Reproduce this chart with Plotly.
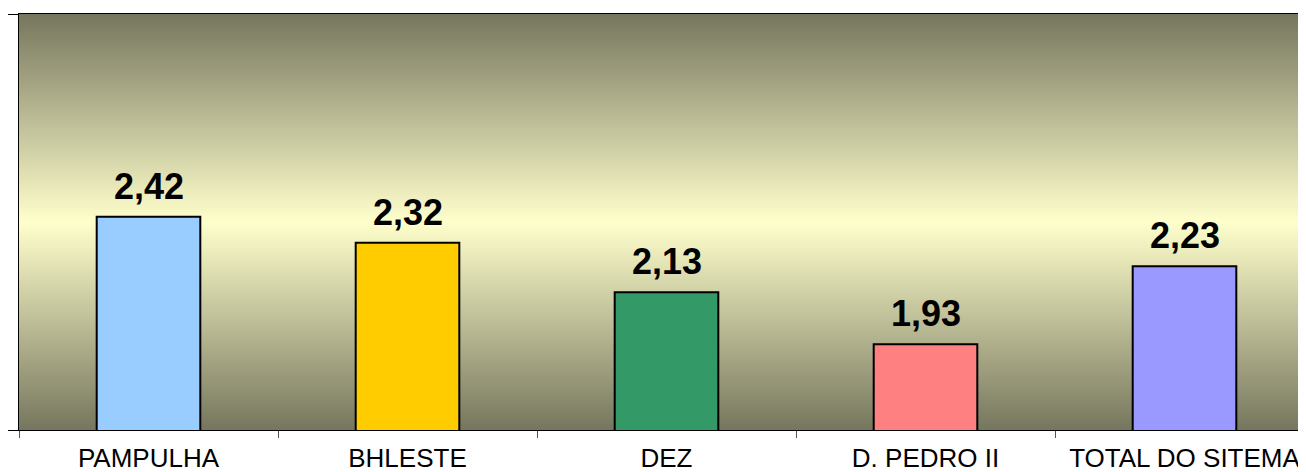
import plotly.graph_objects as go

categories = ["PAMPULHA", "BHLESTE", "DEZ", "D. PEDRO II", "TOTAL DO SITEMA"]
values = [2.42, 2.32, 2.13, 1.93, 2.23]
bar_colors = ["#99CCFF", "#FFCC00", "#339966", "#FF8080", "#9999FF"]
y_min, y_max = 1.6, 3.2

fig = go.Figure()
fig.add_trace(go.Bar(
    x=categories, y=values, width=0.4,
    marker=dict(color=bar_colors, line=dict(color="#000000", width=2)),
    hoverinfo="x+y",
))

# gradient background (dark olive at edges, pale yellow in middle)
edge = (118, 118, 94)
mid = (255, 255, 204)
n = 208
shapes = []
for i in range(n):
    y0 = i / n
    y1 = (i + 1) / n
    c = (y0 + y1) / 2
    t = 1 - abs(c - 0.5) * 2
    col = tuple(round(edge[k] + (mid[k] - edge[k]) * t) for k in range(3))
    shapes.append(dict(type="rect", xref="paper", yref="paper", x0=0, x1=1,
                       y0=y0, y1=y1 + 0.001, layer="below",
                       fillcolor="rgb(%d,%d,%d)" % col, line=dict(width=0)))

annotations = []
for c, v in zip(categories, values):
    annotations.append(dict(x=c, y=v, xref="x", yref="y",
                            text=f"{v:.2f}".replace(".", ","),
                            showarrow=False, yanchor="bottom", yshift=8,
                            font=dict(family="Liberation Sans, Arial", size=36,
                                      color="#000000", weight="bold")))

fig.update_layout(
    width=1306, height=472,
    margin=dict(l=11, r=0, t=6, b=50, pad=0),
    paper_bgcolor="#FFFFFF", plot_bgcolor="rgba(0,0,0,0)",
    shapes=shapes, annotations=annotations,
    showlegend=False, bargap=0.6,
    font=dict(family="Liberation Sans, Arial", color="#000000"),
)
fig.update_xaxes(
    type="category", range=[-0.5, 4.5], automargin=False,
    showline=True, linecolor="#000000", linewidth=1, mirror=True,
    ticks="outside", tickson="boundaries", ticklen=7, tickcolor="#555555",
    ticklabelstandoff=5,
    showgrid=False, tickfont=dict(size=26, color="#000000"),
)
fig.update_yaxes(
    range=[y_min, y_max], automargin=False,
    showline=True, linecolor="#000000", linewidth=1,
    ticks="outside", ticklen=13, tickcolor="#000000",
    tickvals=[y_min, y_max], showticklabels=False, showgrid=False, zeroline=False,
)

fig.write_html("out.html")
